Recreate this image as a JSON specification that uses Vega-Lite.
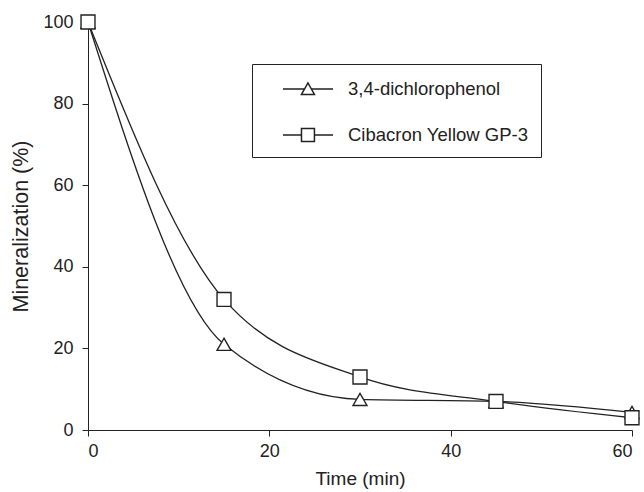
{
  "$schema": "https://vega.github.io/schema/vega-lite/v6.json",
  "width": 544,
  "height": 408,
  "autosize": {"type": "none"},
  "padding": {"left": 88, "top": 22, "right": 12, "bottom": 62},
  "background": "white",
  "config": {
    "view": {"stroke": null},
    "font": "Liberation Sans",
    "axis": {"grid": false, "domainColor": "#222", "tickColor": "#222", "labelColor": "#222", "titleColor": "#222", "labelFont": "Liberation Sans", "titleFont": "Liberation Sans", "titleFontWeight": "normal"}
  },
  "data": {"values": [
    {"time": 0, "value": 100, "series": "3,4-dichlorophenol"},
    {"time": 15, "value": 21, "series": "3,4-dichlorophenol"},
    {"time": 30, "value": 7.5, "series": "3,4-dichlorophenol"},
    {"time": 45, "value": 7, "series": "3,4-dichlorophenol"},
    {"time": 60, "value": 4.3, "series": "3,4-dichlorophenol"},
    {"time": 0, "value": 100, "series": "Cibacron Yellow GP-3"},
    {"time": 15, "value": 32, "series": "Cibacron Yellow GP-3"},
    {"time": 30, "value": 13, "series": "Cibacron Yellow GP-3"},
    {"time": 45, "value": 7, "series": "Cibacron Yellow GP-3"},
    {"time": 60, "value": 3, "series": "Cibacron Yellow GP-3"}
  ]},
  "encoding": {
    "x": {"field": "time", "type": "quantitative", "scale": {"domain": [0, 60], "nice": false, "zero": false}, "axis": {"title": "Time (min)", "values": [0, 20, 40, 60], "tickSize": 6, "labelPadding": 6, "labelFontSize": 18, "titleFontSize": 19, "titlePadding": 9}},
    "y": {"field": "value", "type": "quantitative", "scale": {"domain": [0, 100], "nice": false}, "axis": {"title": "Mineralization (%)", "values": [0, 20, 40, 60, 80, 100], "tickSize": 6, "labelPadding": 9, "labelFontSize": 18, "titleFontSize": 21.5, "titlePadding": 10}}
  },
  "layer": [
    {
      "mark": {"type": "line", "interpolate": "monotone", "color": "#222", "strokeWidth": 1.3},
      "encoding": {"detail": {"field": "series"}}
    },
    {
      "mark": {"type": "point", "filled": false, "fill": "white", "color": "#222", "strokeWidth": 1.3, "size": 10, "opacity": 0},
      "encoding": {
        "shape": {
          "field": "series",
          "type": "nominal",
          "scale": {"domain": ["3,4-dichlorophenol", "Cibacron Yellow GP-3"], "range": ["M0.5,0H2.3M2.86,0H4.67M2.04,0.45L2.58,-0.5L3.12,0.45Z", "M0.5,0H2.04M3.12,0H4.67M2.04,-0.54H3.12V0.54H2.04Z"]},
          "legend": {
            "title": null,
            "orient": "none",
            "legendX": 164,
            "legendY": 42,
            "padding": 12,
            "strokeColor": "#222",
            "symbolSize": 576,
            "symbolOpacity": 1,
            "labelFontSize": 18.5,
            "labelFont": "Liberation Sans",
            "labelColor": "#222",
            "labelLimit": 0,
            "labelOffset": 58,
            "rowPadding": 23
          }
        }
      }
    },
    {
      "mark": {"type": "point", "filled": false, "fill": "white", "color": "#222", "strokeWidth": 1.4, "size": 195, "opacity": 1},
      "encoding": {
        "shape": {
          "field": "series",
          "type": "nominal",
          "scale": {"domain": ["3,4-dichlorophenol", "Cibacron Yellow GP-3"], "range": ["triangle-up", "square"]},
          "legend": null
        }
      }
    }
  ],
  "resolve": {"scale": {"shape": "independent"}, "legend": {"shape": "independent"}}
}
